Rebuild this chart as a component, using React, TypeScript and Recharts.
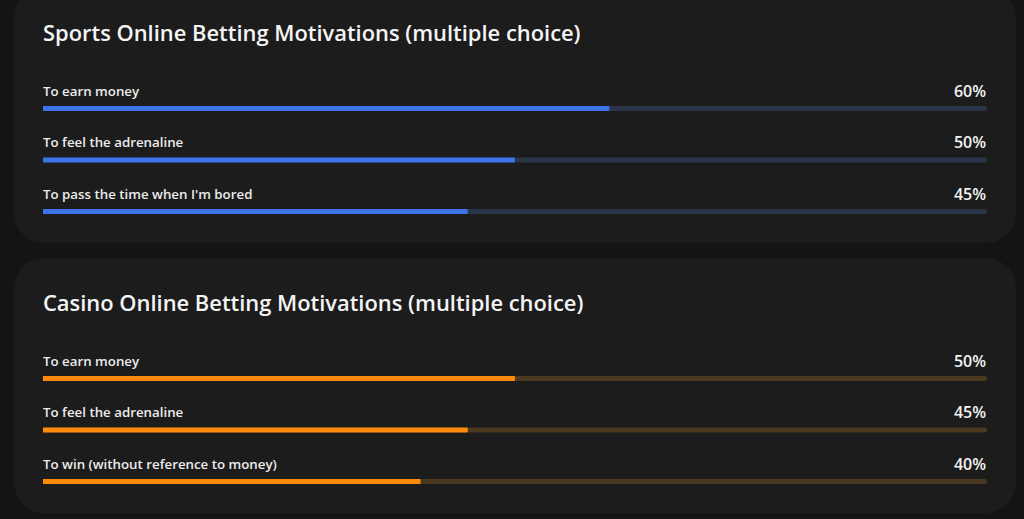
import React from 'react';
import { BarChart, Bar, XAxis, YAxis, LabelList } from 'recharts';

const sportsReasons = ['To earn money', 'To feel the adrenaline', "To pass the time when I'm bored"];
const sportsShares = [60, 50, 45];
const casinoReasons = ['To earn money', 'To feel the adrenaline', 'To win (without reference to money)'];
const casinoShares = [50, 45, 40];

const FONT = '"Open Sans", "Noto Sans", sans-serif';
const CHART_W = 944;
const ROW_H = 51.5;
const PAD = 20;

type CardProps = {
  title: string;
  reasons: string[];
  shares: number[];
  color: string;
  track: string;
  top: number;
};

function MotivationCard({ title, reasons, shares, color, track, top }: CardProps) {
  const data = reasons.map((name, i) => ({ name, value: shares[i] }));

  const renderLabel = (props: any) => {
    const { y, height, index, value } = props;
    const cy = Number(y) + Number(height) / 2 - 18;
    return (
      <g>
        <text x={0} y={cy} fill="#ececec" fontSize={13.3} fontWeight={600} fontFamily={FONT} dominantBaseline="central">
          {data[index].name}
        </text>
        <text x={CHART_W - 1} y={cy} fill="#f2f2f2" fontSize={16} fontWeight={600} fontFamily={FONT} textAnchor="end" dominantBaseline="central">
          {value}%
        </text>
      </g>
    );
  };

  return (
    <div style={{ position: 'absolute', left: 14, top, width: 1002, height: 255, background: '#1c1c1c', borderRadius: 30 }}>
      <div style={{ position: 'absolute', left: 29, top: 44, transform: 'translateY(-50%)', fontFamily: FONT, fontSize: 21.9, fontWeight: 600, color: '#f4f4f4', whiteSpace: 'nowrap' }}>
        {title}
      </div>
      <div style={{ position: 'absolute', left: 29, top: 95 - PAD }}>
        <BarChart width={CHART_W} height={ROW_H * 3 + PAD} data={data} layout="vertical" margin={{ top: PAD, right: 0, bottom: 0, left: 0 }} barSize={5}>
          <XAxis type="number" domain={[0, 100]} hide />
          <YAxis type="category" dataKey="name" hide width={0} />
          <Bar dataKey="value" fill={color} radius={[0, 1, 1, 0]} background={{ fill: track, radius: 3 } as any} isAnimationActive={false}>
            <LabelList dataKey="value" content={renderLabel} />
          </Bar>
        </BarChart>
      </div>
    </div>
  );
}

export default function App() {
  return (
    <div style={{ position: 'absolute', left: 0, top: 0, width: 1024, height: 519, background: '#141414', overflow: 'hidden' }}>
      <MotivationCard title="Sports Online Betting Motivations (multiple choice)" reasons={sportsReasons} shares={sportsShares} color="#3d73e6" track="#2b3448" top={-12} />
      <MotivationCard title="Casino Online Betting Motivations (multiple choice)" reasons={casinoReasons} shares={casinoShares} color="#ff8a0a" track="#4a3820" top={258} />
    </div>
  );
}
